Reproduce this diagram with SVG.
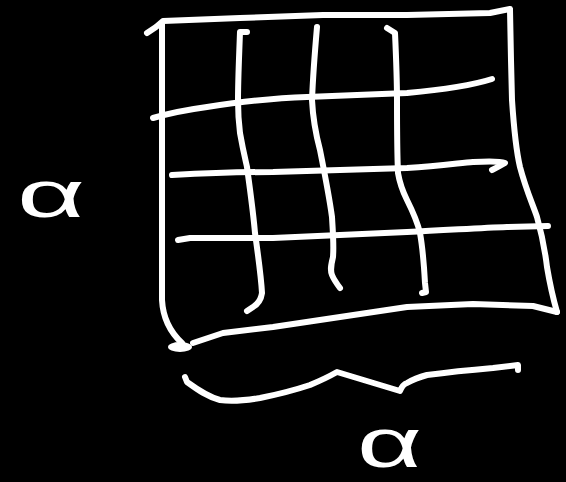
<svg xmlns="http://www.w3.org/2000/svg" width="566" height="482" viewBox="0 0 566 482">
<style>
.s{fill:none;stroke:#fff;stroke-width:6;stroke-linecap:round;stroke-linejoin:round}
.t{fill:#fff;font-family:"Liberation Sans","DejaVu Sans",sans-serif}
</style>
<rect width="566" height="482" fill="#000"/>
<g id="grid">
<path class="s" d="M147,33 L156,27 L163,21 L240,18 L323,15 L407,15 L490,13 L510,9"/>
<path class="s" d="M162,24 L162,120 L162,220 L162,300 C163,318 170,332 182,343"/>
<path class="s" d="M510,10 L511,60 L512,100 C514,130 516,150 520,167 C526,190 533,205 537,217 C542,235 545,250 547,267 C550,285 553,298 557,312"/>
<path class="s" d="M557,312 L533,306 L473,304 L407,307 L340,317 L273,327 L223,333 L193,343"/>
<ellipse cx="180" cy="347" rx="12" ry="5" fill="#fff"/>
<path class="s" d="M153,118 C170,113 185,110 207,107 C240,102 270,98 307,97 C350,95 380,94 407,93 C440,90 470,86 492,79"/>
<path class="s" d="M172,175 C210,173 240,172 273,172 C320,171 360,169 407,168 C440,166 460,163 473,162 C490,161 500,161 505,163 C500,166 496,168 492,170"/>
<path class="s" d="M178,240 L190,238 L230,238 L273,238 C320,236 360,234 407,232 C450,230 480,228 507,227 L548,226"/>
<path class="s" d="M247,32 L240,32 C239,60 238,80 238,100 C238,115 239,125 240,133 C243,150 245,158 247,167 C250,190 253,210 255,233 C258,255 261,275 262,293 C261,300 258,304 253,307 L247,311"/>
<path class="s" d="M317,27 C315,50 313,75 312,100 C313,120 316,135 320,150 C325,175 329,195 332,217 C333,235 334,245 333,257 C331,265 330,270 332,275 C334,280 337,284 340,288"/>
<path class="s" d="M387,28 L395,33 C396,55 397,80 397,100 C397,130 397,150 398,173 C400,185 403,192 407,200 C412,210 417,220 420,233 C423,250 424,265 425,283 L426,292 L422,293"/>
</g>
<g id="brace">
<path class="s" d="M185,377 L187,382 C198,390 208,397 220,400 C235,402 248,400 260,398 C280,394 295,390 310,385 C322,380 330,376 337,372 L400,391 C402,386 404,384 407,383 C414,379 420,377 427,375 C450,372 470,370 493,368 L518,365 L518,370"/>
</g>
<g id="labels">
<text class="t" x="17" y="217" font-size="66" textLength="68" lengthAdjust="spacingAndGlyphs">α</text>
<text class="t" x="357" y="467" font-size="70" textLength="65" lengthAdjust="spacingAndGlyphs">α</text>
</g>
</svg>
